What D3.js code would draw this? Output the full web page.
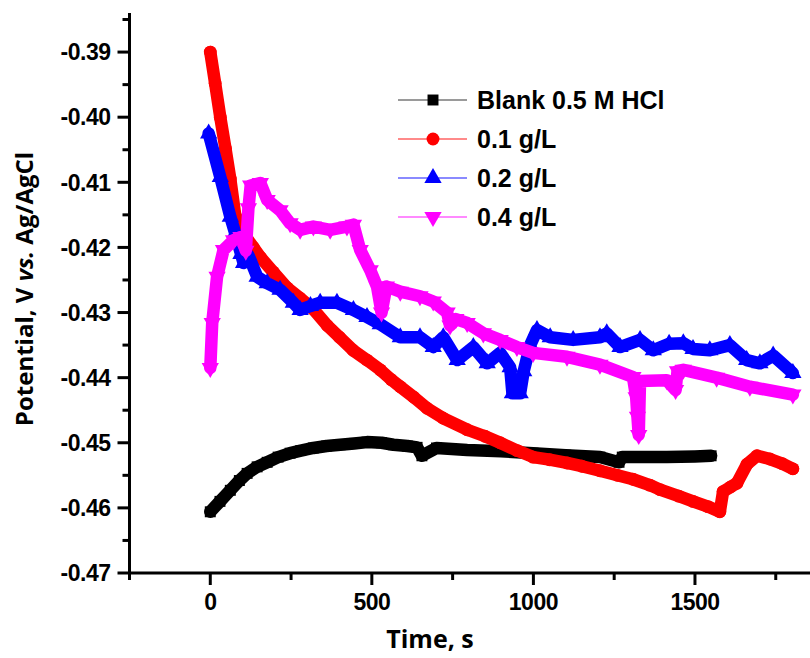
<!DOCTYPE html>
<html>
<head>
<meta charset="utf-8">
<script src="https://cdn.jsdelivr.net/npm/d3@7"></script>
<style>
  body { margin: 0; background: #fff; }
  svg { display: block; }
</style>
</head>
<body>
<div id="chart"></div>
<script>
// Data (time in s, potential in V)
const blankT = [0, 30, 62, 90, 114, 145, 176, 210, 247, 280, 319, 360, 402, 445, 485, 530, 567, 610, 640, 655, 700, 795, 900, 999, 1100, 1206, 1265, 1275, 1300, 1413, 1500, 1550];
const blankV = [-0.4606, -0.4590, -0.4573, -0.4558, -0.4547, -0.4537, -0.4530, -0.4522, -0.4516, -0.4512, -0.4508, -0.4505, -0.4503, -0.4501, -0.4499, -0.4500, -0.4503, -0.4505, -0.4507, -0.4520, -0.4508, -0.4511, -0.4513, -0.4516, -0.4519, -0.4522, -0.4530, -0.4522, -0.4522, -0.4522, -0.4521, -0.4520];

const lowT = [0, 15, 31, 47, 62, 77, 105, 133, 155, 195, 238, 278, 319, 362, 400, 442, 485, 526, 560, 588, 630, 671, 720, 795, 850, 897, 950, 999, 1050, 1104, 1150, 1206, 1260, 1308, 1360, 1392, 1450, 1494, 1540, 1577, 1587, 1610, 1630, 1661, 1692, 1732, 1770, 1803];
const lowV = [-0.3900, -0.3948, -0.4000, -0.4048, -0.4095, -0.4150, -0.4180, -0.4200, -0.4215, -0.4238, -0.4262, -0.4278, -0.4295, -0.4320, -0.4338, -0.4358, -0.4373, -0.4388, -0.4403, -0.4414, -0.4430, -0.4447, -0.4462, -0.4480, -0.4490, -0.4500, -0.4512, -0.4522, -0.4526, -0.4531, -0.4536, -0.4543, -0.4550, -0.4556, -0.4565, -0.4572, -0.4582, -0.4590, -0.4598, -0.4606, -0.4575, -0.4568, -0.4562, -0.4533, -0.4520, -0.4525, -0.4532, -0.4540];

const midT = [-5, 31, 62, 77, 95, 103, 118, 145, 176, 216, 257, 278, 310, 340, 392, 443, 485, 526, 588, 649, 690, 721, 764, 814, 857, 897, 928, 935, 959, 970, 990, 1011, 1052, 1123, 1206, 1227, 1268, 1330, 1371, 1420, 1464, 1494, 1546, 1608, 1660, 1701, 1742, 1803];
const midV = [-0.4025, -0.4092, -0.4153, -0.4178, -0.4210, -0.4224, -0.4212, -0.4245, -0.4255, -0.4265, -0.4285, -0.4296, -0.4290, -0.4285, -0.4285, -0.4296, -0.4307, -0.4318, -0.4338, -0.4338, -0.4353, -0.4338, -0.4373, -0.4353, -0.4378, -0.4362, -0.4384, -0.4424, -0.4424, -0.4390, -0.4350, -0.4327, -0.4338, -0.4342, -0.4338, -0.4332, -0.4353, -0.4342, -0.4358, -0.4348, -0.4347, -0.4356, -0.4358, -0.4350, -0.4373, -0.4378, -0.4366, -0.4393];

const highT = [0, 6, 21, 41, 72, 95, 110, 118, 125, 155, 176, 216, 247, 278, 319, 371, 423, 443, 464, 495, 516, 530, 545, 588, 649, 690, 733, 742, 760, 795, 845, 897, 949, 999, 1104, 1206, 1308, 1318, 1322, 1326, 1330, 1413, 1440, 1446, 1464, 1567, 1670, 1803];
const highV = [-0.4385, -0.4316, -0.4245, -0.4204, -0.4189, -0.4184, -0.4205, -0.4140, -0.4105, -0.4101, -0.4127, -0.4143, -0.4163, -0.4173, -0.4168, -0.4173, -0.4168, -0.4165, -0.4204, -0.4235, -0.4260, -0.4300, -0.4260, -0.4268, -0.4275, -0.4283, -0.4300, -0.4320, -0.4310, -0.4316, -0.4332, -0.4342, -0.4353, -0.4362, -0.4368, -0.4380, -0.4399, -0.4430, -0.4460, -0.4488, -0.4405, -0.4404, -0.4419, -0.4390, -0.4388, -0.4400, -0.4414, -0.4426];

const seriesNames = ['Blank 0.5 M HCl', '0.1 g/L', '0.2 g/L', '0.4 g/L'];
const xTicks = [0, 500, 1000, 1500];
const yTicks = [-0.39, -0.40, -0.41, -0.42, -0.43, -0.44, -0.45, -0.46, -0.47];

const width = 810;
const height = 658;

const svg = d3.select('#chart').append('svg')
  .attr('width', width)
  .attr('height', height);

const x = d3.scaleLinear()
  .domain([-250, 1856])
  .range([129.5, 810]);

const y = d3.scaleLinear()
  .domain([-0.47, -0.384])
  .range([573, 13]);

const series = [
  { name: seriesNames[0], t: blankT, v: blankV, color: '#000000', light: '#9a9a9a', symbol: d3.symbolSquare, size: 120, rot: 0 },
  { name: seriesNames[1], t: lowT, v: lowV, color: '#ff0000', light: '#ff8a8a', symbol: d3.symbolCircle, size: 130, rot: 0 },
  { name: seriesNames[2], t: midT, v: midV, color: '#0000ff', light: '#8a8aff', symbol: d3.symbolTriangle, size: 130, rot: 0 },
  { name: seriesNames[3], t: highT, v: highV, color: '#ff00ff', light: '#ff8aff', symbol: d3.symbolTriangle, size: 130, rot: 180 },
];

const line = d3.line()
  .x(d => x(d[0]))
  .y(d => y(d[1]));

// Series: thick line plus markers at each read point
series.forEach(s => {
  const pts = s.t.map((t, i) => [t, s.v[i]]);
  const g = svg.append('g');
  g.append('path')
    .datum(pts)
    .attr('fill', 'none')
    .attr('stroke', s.color)
    .attr('stroke-width', 12.5)
    .attr('stroke-linejoin', 'round')
    .attr('stroke-linecap', 'round')
    .attr('d', line);
  g.selectAll('path.mk')
    .data(pts)
    .join('path')
    .attr('class', 'mk')
    .attr('fill', s.color)
    .attr('transform', d => `translate(${x(d[0])},${y(d[1])}) rotate(${s.rot})`)
    .attr('d', d3.symbol().type(s.symbol).size(s.size));
});

// Axes
const fontTick = '"Liberation Sans", Arial, sans-serif';

const yAxis = svg.append('g')
  .attr('transform', `translate(${x.range()[0]},0)`);
yAxis.append('line')
  .attr('y1', 13).attr('y2', 573)
  .attr('stroke', '#000').attr('stroke-width', 3);
yAxis.selectAll('line.minor')
  .data(d3.range(-0.465, -0.384, 0.01))
  .join('line')
  .attr('class', 'minor')
  .attr('x1', -7).attr('x2', 0)
  .attr('y1', d => y(d)).attr('y2', d => y(d))
  .attr('stroke', '#000').attr('stroke-width', 3);
yAxis.selectAll('line.major')
  .data(yTicks)
  .join('line')
  .attr('class', 'major')
  .attr('x1', -12).attr('x2', 0)
  .attr('y1', d => y(d)).attr('y2', d => y(d))
  .attr('stroke', '#000').attr('stroke-width', 3);
yAxis.selectAll('text')
  .data(yTicks)
  .join('text')
  .attr('x', -19)
  .attr('y', d => y(d))
  .attr('dy', '0.36em')
  .attr('text-anchor', 'end')
  .style('font-family', fontTick)
  .style('font-weight', 'bold')
  .style('font-size', '23px')
  .style('letter-spacing', '-0.5px')
  .text(d => d.toFixed(2));

const xAxis = svg.append('g')
  .attr('transform', `translate(0,${y.range()[0]})`);
xAxis.append('line')
  .attr('x1', x.range()[0] - 1.5).attr('x2', 810)
  .attr('stroke', '#000').attr('stroke-width', 3);
xAxis.selectAll('line.minor')
  .data([-250, 250, 750, 1250, 1750])
  .join('line')
  .attr('class', 'minor')
  .attr('x1', d => x(d)).attr('x2', d => x(d))
  .attr('y1', 0).attr('y2', 7)
  .attr('stroke', '#000').attr('stroke-width', 3);
xAxis.selectAll('line.major')
  .data(xTicks)
  .join('line')
  .attr('class', 'major')
  .attr('x1', d => x(d)).attr('x2', d => x(d))
  .attr('y1', 0).attr('y2', 12)
  .attr('stroke', '#000').attr('stroke-width', 3);
xAxis.selectAll('text')
  .data(xTicks)
  .join('text')
  .attr('x', d => x(d))
  .attr('y', 37)
  .attr('text-anchor', 'middle')
  .style('font-family', fontTick)
  .style('font-weight', 'bold')
  .style('font-size', '23px')
  .style('letter-spacing', '-0.5px')
  .text(d => d);

// Axis titles
const fontTitle = '"Open Sans", "Noto Sans", sans-serif';
svg.append('text')
  .attr('x', 430)
  .attr('y', 648)
  .attr('text-anchor', 'middle')
  .style('font-family', fontTitle)
  .style('font-weight', 'bold')
  .style('font-size', '25px')
  .text('Time, s');

const yTitle = svg.append('text')
  .attr('transform', 'translate(33,289) rotate(-90)')
  .attr('text-anchor', 'middle')
  .style('font-family', fontTitle)
  .style('font-weight', 'bold')
  .style('font-size', '24px');
yTitle.append('tspan').text('Potential, V ');
yTitle.append('tspan').style('font-style', 'italic').text('vs.');
yTitle.append('tspan').text(' Ag/AgCl');

// Legend
const legend = svg.append('g');
const rowY = d3.scalePoint().domain(seriesNames).range([100, 217]);
series.forEach(s => {
  const g = legend.append('g').attr('transform', `translate(0,${rowY(s.name)})`);
  g.append('line')
    .attr('x1', 398).attr('x2', 467)
    .attr('stroke', s.light).attr('stroke-width', 2);
  g.append('path')
    .attr('transform', `translate(433,0) rotate(${s.rot})`)
    .attr('fill', s.color)
    .attr('d', d3.symbol().type(s.symbol).size(s.size));
  g.append('text')
    .attr('x', 477)
    .attr('dy', '0.36em')
    .style('font-family', fontTick)
    .style('font-weight', 'bold')
    .style('font-size', '25px')
    .text(s.name);
});
</script>
</body>
</html>
